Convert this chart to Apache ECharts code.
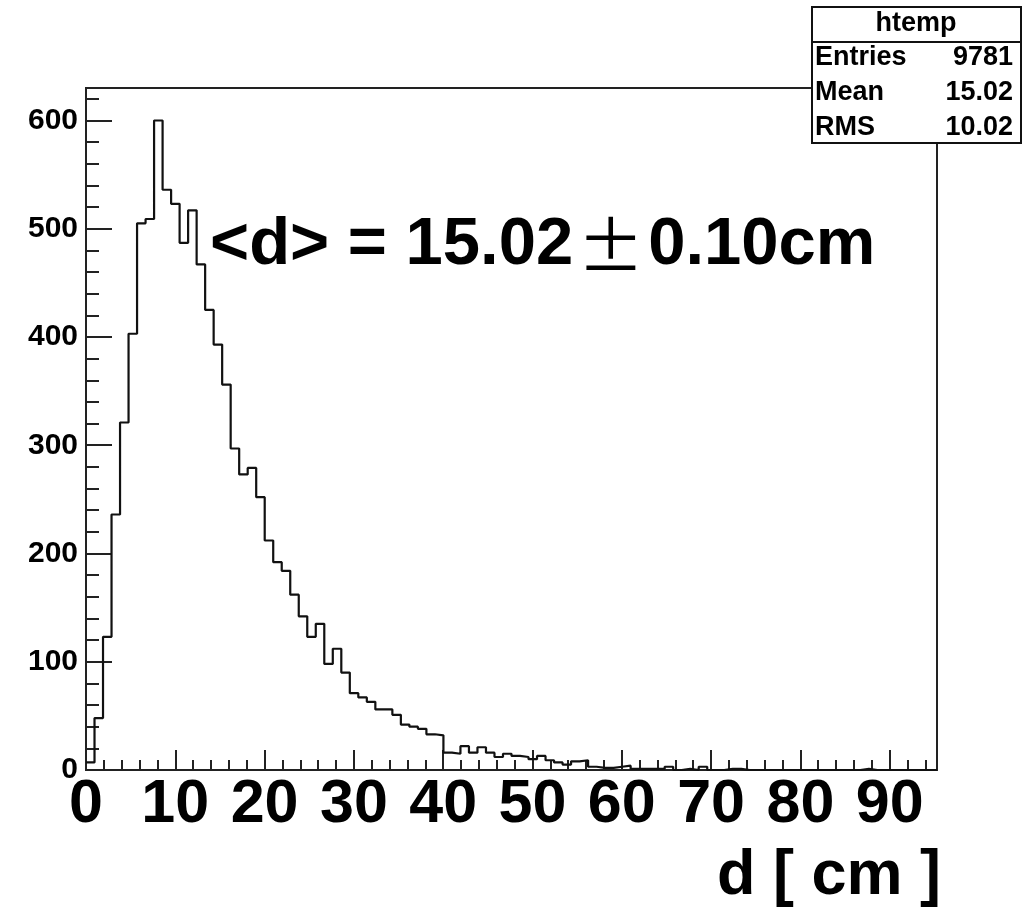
<!DOCTYPE html>
<html>
<head>
<meta charset="utf-8">
<script src="https://cdn.jsdelivr.net/npm/echarts@6/dist/echarts.min.js"></script>
<style>
html,body{margin:0;padding:0;background:#fff;}
#c{width:1026px;height:910px;}
</style>
</head>
<body>
<div id="c"></div>
<script>
// ---- data ----
const binCounts = [
  7, 48, 123, 236, 321, 403, 505, 509, 600, 536,
  523, 487, 517, 467, 425, 393, 356, 297, 273, 279,
  252, 212, 192, 184, 162, 142, 123, 135, 98, 112,
  90, 71, 67, 63, 56, 56, 51, 42, 40, 38,
  33, 32, 16, 15, 22, 16, 21, 16, 12, 15,
  13, 12, 10, 13, 9, 7, 5, 8, 9, 3,
  2, 2, 3, 4, 1, 1, 1, 1, 3, 0,
  1, 0, 3, 0, 0, 1, 1, 0, 0, 0,
  0, 0, 0, 0, 0, 0, 0, 0, 0, 0,
  0, 1, 0, 0, 0, 0, 0, 0, 0, 0
];
const xMin = 0, xMax = 95.3;
const yMin = 0, yMax = 630;
const xMajorTicks = [0, 10, 20, 30, 40, 50, 60, 70, 80, 90];
const xMinorTicks = [2,4,6,8,12,14,16,18,22,24,26,28,32,34,36,38,42,44,46,48,52,54,56,58,62,64,66,68,72,74,76,78,82,84,86,88,92,94];
const yMajorTicks = [0, 100, 200, 300, 400, 500, 600];
const yMinorTicks = [20,40,60,80,120,140,160,180,220,240,260,280,320,340,360,380,420,440,460,480,520,540,560,580,620];
const xTitle = 'd [ cm ]';
const annotation = ['<d> = 15.02', '±', '0.10cm'];
const statsTitle = 'htemp';
const statsNames = ['Entries', 'Mean', 'RMS'];
const statsValues = ['9781', '15.02', '10.02'];

// ---- build ----
const nBins = binCounts.length;
const binWidth = (xMax - xMin) / nBins;
const histPts = binCounts.map((v, i) => [xMin + i * binWidth, v]);
histPts.push([xMax, binCounts[nBins - 1]]);

const FONT = '"Liberation Sans", Arial, Helvetica, sans-serif';
const chart = echarts.init(document.getElementById('c'), null, {renderer: 'canvas'});

const gridL = 86, gridT = 88, gridR = 937, gridB = 770;

const statsText = [];
statsNames.forEach((n, i) => {
  const y = 58 + i * 35;
  statsText.push({type: 'text', z: 101, style: {x: 815, y: y, text: n, font: 'bold 27px ' + FONT, fill: '#000', verticalAlign: 'middle', align: 'left'}});
  statsText.push({type: 'text', z: 101, style: {x: 1013, y: y, text: statsValues[i], font: 'bold 27px ' + FONT, fill: '#000', verticalAlign: 'middle', align: 'right'}});
});

chart.setOption({
  animation: false,
  backgroundColor: '#fff',
  grid: {left: gridL, top: gridT, right: 1026 - gridR, bottom: 910 - gridB, show: true, borderColor: '#222', borderWidth: 2, containLabel: false},
  xAxis: [{
    type: 'value', min: xMin, max: xMax, position: 'bottom',
    axisLine: {show: true, onZero: false, lineStyle: {color: '#222', width: 2}},
    axisTick: {show: true, inside: true, length: 20, customValues: xMajorTicks, lineStyle: {color: '#222', width: 2}},
    axisLabel: {show: true, customValues: xMajorTicks, fontSize: 61, fontWeight: 'bold', fontFamily: FONT, color: '#000', margin: 5},
    splitLine: {show: false}
  }, {
    type: 'value', min: xMin, max: xMax, position: 'bottom',
    axisLine: {show: false},
    axisTick: {show: true, inside: true, length: 10, customValues: xMinorTicks, lineStyle: {color: '#222', width: 2}},
    axisLabel: {show: false},
    splitLine: {show: false}
  }],
  yAxis: [{
    type: 'value', min: yMin, max: yMax, position: 'left',
    axisLine: {show: true, onZero: false, lineStyle: {color: '#222', width: 2}},
    axisTick: {show: true, inside: true, length: 26, customValues: yMajorTicks, lineStyle: {color: '#222', width: 2}},
    axisLabel: {show: true, customValues: yMajorTicks, fontSize: 30, fontWeight: 'bold', fontFamily: FONT, color: '#000', margin: 8},
    splitLine: {show: false}
  }, {
    type: 'value', min: yMin, max: yMax, position: 'left',
    axisLine: {show: false},
    axisTick: {show: true, inside: true, length: 13, customValues: yMinorTicks, lineStyle: {color: '#222', width: 2}},
    axisLabel: {show: false},
    splitLine: {show: false}
  }],
  series: [{
    type: 'line', xAxisIndex: 0, yAxisIndex: 0,
    data: histPts, step: 'end', showSymbol: false, symbol: 'none',
    lineStyle: {color: '#111', width: 2.2}, clip: true, silent: true
  }],
  graphic: [
    {type: 'text', z: 100, style: {
      x: 210, y: 246, text: '{a|' + annotation[0] + '}{b|' + annotation[1] + '}{a|' + annotation[2] + '}',
      verticalAlign: 'middle', align: 'left',
      rich: {
        a: {font: 'bold 67px ' + FONT, fill: '#000'},
        b: {font: 'normal 67px "Noto Sans CJK JP", sans-serif', fill: '#000', padding: [0, 4, 0, 4]}
      }
    }},
    {type: 'text', z: 100, style: {x: 941, y: 877, text: xTitle, font: 'bold 63px ' + FONT, fill: '#000', align: 'right', verticalAlign: 'middle'}},
    {type: 'rect', z: 100, shape: {x: 812, y: 7, width: 209, height: 136}, style: {fill: '#fff', stroke: '#111', lineWidth: 2}},
    {type: 'line', z: 101, shape: {x1: 812, y1: 42, x2: 1021, y2: 42}, style: {stroke: '#111', lineWidth: 2}},
    {type: 'text', z: 101, style: {x: 916, y: 24, text: statsTitle, font: 'bold 27px ' + FONT, fill: '#000', align: 'center', verticalAlign: 'middle'}}
  ].concat(statsText)
});
</script>
</body>
</html>
